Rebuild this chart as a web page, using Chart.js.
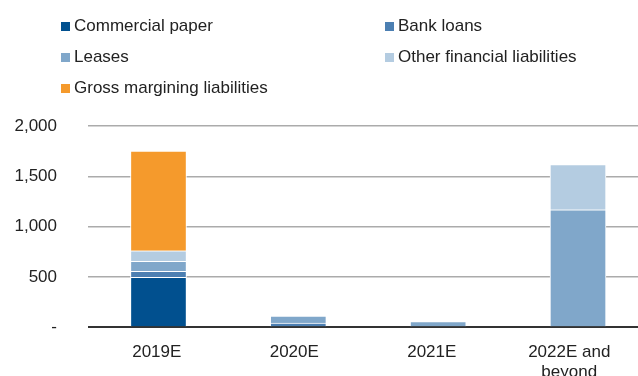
<!DOCTYPE html>
<html lang="en">
<head>
  <meta charset="UTF-8">
  <title>Debt maturity profile</title>
  <script src="https://cdn.jsdelivr.net/npm/chart.js"></script>
  <style>
    html, body { margin: 0; padding: 0; background: #fff; }
    #wrap { position: relative; width: 638px; height: 376px; overflow: hidden; }
    #box { position: absolute; left: 0; top: 0; width: 638px; height: 390px; }
    #legend { position: absolute; left: 0; top: 0; width: 638px; height: 110px; z-index: 2;
      font-family: "Liberation Sans", Arial, sans-serif; font-size: 17px; color: #222; }
    .item { position: absolute; line-height: 20px; white-space: nowrap; }
    .sw { position: absolute; width: 9px; height: 9px; top: 6px; }
  </style>
</head>
<body>
  <div id="wrap">
    <div id="box"><canvas id="debtChart"></canvas></div>
    <div id="legend"></div>
  </div>

  <script>
    const categories = ['2019E', '2020E', '2021E', ['2022E and', 'beyond']];
    const commercialPaper = [495, 0, 0, 0];
    const bankLoans = [60, 40, 0, 0];
    const leases = [100, 70, 55, 1167];
    const otherLiabilities = [105, 0, 0, 450];
    const grossMargining = [990, 0, 0, 0];
    const yTicks = [0, 500, 1000, 1500, 2000];

    const series = [
      { label: 'Commercial paper', values: commercialPaper, color: '#01508F' },
      { label: 'Bank loans', values: bankLoans, color: '#4C7FB2' },
      { label: 'Leases', values: leases, color: '#80A7CA' },
      { label: 'Other financial liabilities', values: otherLiabilities, color: '#B4CCE1' },
      { label: 'Gross margining liabilities', values: grossMargining, color: '#F59A2C' }
    ];

    // legend: two columns, filled row by row
    const legendDiv = document.getElementById('legend');
    series.forEach((s, i) => {
      const col = i % 2, row = Math.floor(i / 2);
      const item = document.createElement('div');
      item.className = 'item';
      item.style.left = (col ? 385 : 61) + 'px';
      item.style.top = (15.5 + row * 31) + 'px';
      item.style.paddingLeft = '13px';
      item.innerHTML = `<span class="sw" style="left:0;background:${s.color}"></span>${s.label}`;
      legendDiv.appendChild(item);
    });

    const font = { family: '"Liberation Sans", Arial, sans-serif', size: 17, lineHeight: 1.2 };

    new Chart(document.getElementById('debtChart'), {
      type: 'bar',
      data: {
        labels: categories,
        datasets: series.map(s => ({
          label: s.label,
          data: s.values.map((v, i) => ({ x: i, y: v })),
          backgroundColor: s.color,
          borderColor: '#ffffff',
          borderWidth: 1,
          barThickness: 56,
          xAxisID: 'xb',
          yAxisID: 'y'
        }))
      },
      options: {
        responsive: true,
        maintainAspectRatio: false,
        animation: false,
        layout: { padding: { top: 126, left: 0, right: 0, bottom: 0 } },
        plugins: { legend: { display: false }, tooltip: { enabled: false } },
        scales: {
          x: {
            type: 'category',
            min: 0,
            max: 3,
            offset: true,
            grid: { display: false },
            border: { display: false },
            ticks: { font: font, color: '#222', padding: 7, maxRotation: 0 }
          },
          xb: {
            type: 'linear',
            display: false,
            stacked: true,
            offset: false,
            min: -0.504,
            max: 3.429
          },
          y: {
            stacked: true,
            min: 0,
            max: 2000,
            afterFit: (scale) => { scale.width = 88; },
            afterBuildTicks: (scale) => { scale.ticks = yTicks.map(v => ({ value: v })); },
            border: { display: false },
            grid: {
              drawTicks: false,
              color: (ctx) => ctx.tick.value === 0 ? '#333333' : '#ababab',
              lineWidth: (ctx) => ctx.tick.value === 0 ? 2 : 1.5
            },
            ticks: {
              font: font,
              color: '#222',
              padding: 31,
              callback: (v) => v === 0 ? '-' : v.toLocaleString('en-US')
            }
          }
        }
      }
    });
  </script>
</body>
</html>
